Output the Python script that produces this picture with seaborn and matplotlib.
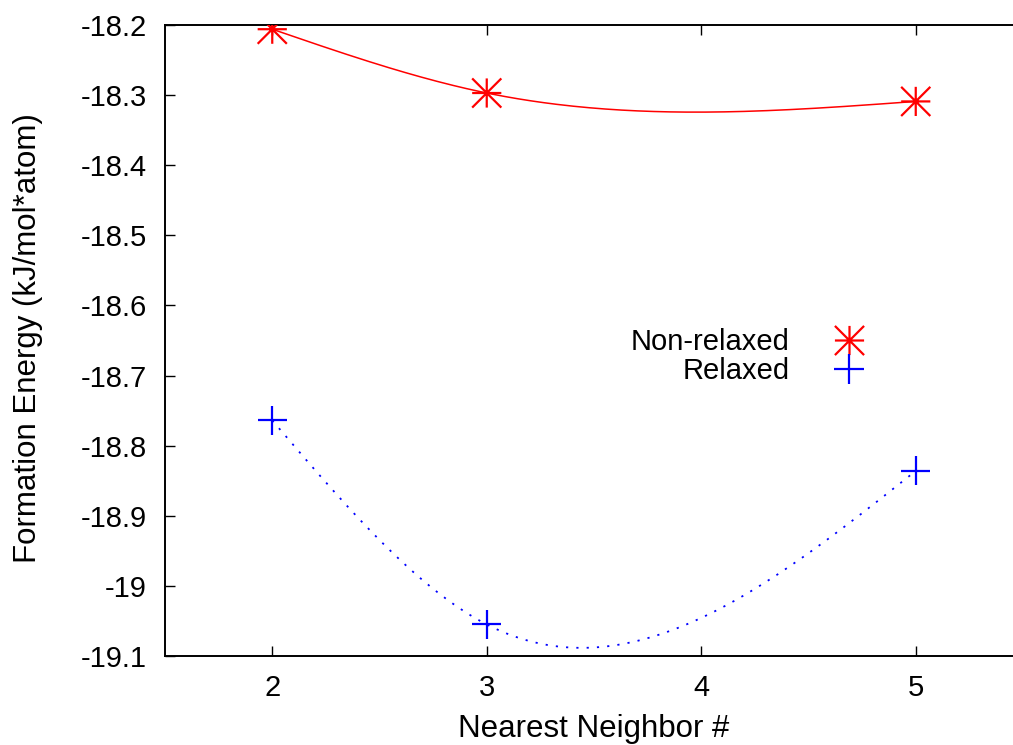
import numpy as np
import pandas as pd
import matplotlib
matplotlib.use("Agg")
import matplotlib.pyplot as plt
from matplotlib.path import Path
from matplotlib.lines import Line2D
from matplotlib.ticker import FixedLocator, FixedFormatter
import seaborn as sns

# ---- data ----
neighbors = [2, 3, 5]
non_relaxed = [-18.206, -18.297, -18.309]
relaxed = [-18.764, -19.055, -18.836]
series_names = ["Non-relaxed", "Relaxed"]
x_ticks = [2, 3, 4, 5]
y_ticks = [-19.1, -19.0, -18.9, -18.8, -18.7, -18.6, -18.5, -18.4, -18.3, -18.2]
y_tick_labels = ["-19.1", "-19", "-18.9", "-18.8", "-18.7", "-18.6", "-18.5", "-18.4", "-18.3", "-18.2"]
x_label = "Nearest Neighbor #"
y_label = "Formation Energy (kJ/mol*atom)"


def natural_spline(xs, ys, n=200):
    """Natural cubic spline through the points (like gnuplot 'smooth csplines')."""
    xs = np.asarray(xs, float)
    ys = np.asarray(ys, float)
    k = len(xs)
    h = np.diff(xs)
    A = np.zeros((k, k))
    b = np.zeros(k)
    A[0, 0] = 1
    A[-1, -1] = 1
    for i in range(1, k - 1):
        A[i, i - 1] = h[i - 1]
        A[i, i] = 2 * (h[i - 1] + h[i])
        A[i, i + 1] = h[i]
        b[i] = 6 * ((ys[i + 1] - ys[i]) / h[i] - (ys[i] - ys[i - 1]) / h[i - 1])
    M = np.linalg.solve(A, b)
    xx = np.linspace(xs[0], xs[-1], n)
    yy = np.empty_like(xx)
    for j, x in enumerate(xx):
        i = min(np.searchsorted(xs, x, side="right") - 1, k - 2)
        hi = h[i]
        t0 = xs[i + 1] - x
        t1 = x - xs[i]
        yy[j] = (M[i] * t0 ** 3 / (6 * hi) + M[i + 1] * t1 ** 3 / (6 * hi)
                 + (ys[i] / hi - M[i] * hi / 6) * t0
                 + (ys[i + 1] / hi - M[i + 1] * hi / 6) * t1)
    return xx, yy


sns.set_theme(style="white")
plt.rcParams["font.family"] = ["Liberation Sans", "DejaVu Sans"]
plt.rcParams["font.size"] = 21
plt.rcParams["text.color"] = "black"
plt.rcParams["axes.labelcolor"] = "black"
plt.rcParams["xtick.color"] = "black"
plt.rcParams["ytick.color"] = "black"

fig = plt.figure(figsize=(10.13, 7.45), dpi=100)
ax = fig.add_axes([165 / 1013, 1 - 656 / 745, (1023 - 165) / 1013, (656 - 25) / 745])

# star marker (gnuplot pt 3: plus + cross)
star = Path([(-1, 0), (1, 0), (0, -1), (0, 1), (-1, -1), (1, 1), (-1, 1), (1, -1)],
            [Path.MOVETO, Path.LINETO] * 4)
plus = Path([(-1, 0), (1, 0), (0, -1), (0, 1)], [Path.MOVETO, Path.LINETO] * 2)

red = "#ff0000"
blue = "#0000ff"

xr, yr = natural_spline(neighbors, non_relaxed)
xb, yb = natural_spline(neighbors, relaxed)

sns.lineplot(x=xr, y=yr, ax=ax, color=red, linewidth=1.1, sort=False)
sns.lineplot(x=xb, y=yb, ax=ax, color=blue, linewidth=1.3, sort=False,
             linestyle=(0, (1.2, 4.5)))

sns.scatterplot(x=neighbors, y=non_relaxed, ax=ax, marker=star, s=21 ** 2,
                color=red, edgecolor=red, facecolor="none", linewidth=1.6, zorder=5)
sns.scatterplot(x=neighbors, y=relaxed, ax=ax, marker=plus, s=21 ** 2,
                color=blue, edgecolor=blue, facecolor="none", linewidth=1.6, zorder=5)

ax.set_xlim(1.5, 5.5)
ax.set_ylim(-19.1, -18.2)
ax.xaxis.set_major_locator(FixedLocator(x_ticks))
ax.yaxis.set_major_locator(FixedLocator(y_ticks))
ax.yaxis.set_major_formatter(FixedFormatter(y_tick_labels))

for sp in ax.spines.values():
    sp.set_visible(True)
    sp.set_color("black")
    sp.set_linewidth(1.4)

ax.tick_params(axis="both", which="major", direction="in", length=7, width=1.0,
               colors="black", labelsize=21, top=True, right=True,
               bottom=True, left=True)
ax.tick_params(axis="y", pad=13)
ax.tick_params(axis="x", pad=13)

ax.set_xlabel(x_label, fontsize=22.5, color="black")
ax.set_ylabel(y_label, fontsize=22.5, color="black")
ax.xaxis.set_label_coords((594 - 165) / 858, (656 - 714) / 631)
ax.yaxis.set_label_coords((43 - 165) / 858, (656 - 338) / 631)
ax.grid(False)

handles = [
    Line2D([], [], linestyle="none", marker=star, markersize=21, markeredgewidth=1.6,
           color=red),
    Line2D([], [], linestyle="none", marker=plus, markersize=21, markeredgewidth=1.6,
           color=blue),
]
ax.legend(handles, series_names, loc="upper right", markerfirst=False, frameon=False,
          bbox_to_anchor=((864 - 165) / 858, (656 - 328) / 631), borderpad=0,
          handlelength=1.0, handletextpad=1.55, labelspacing=0.03, fontsize=21,
          borderaxespad=0)

fig.savefig("out.png", dpi=100)
